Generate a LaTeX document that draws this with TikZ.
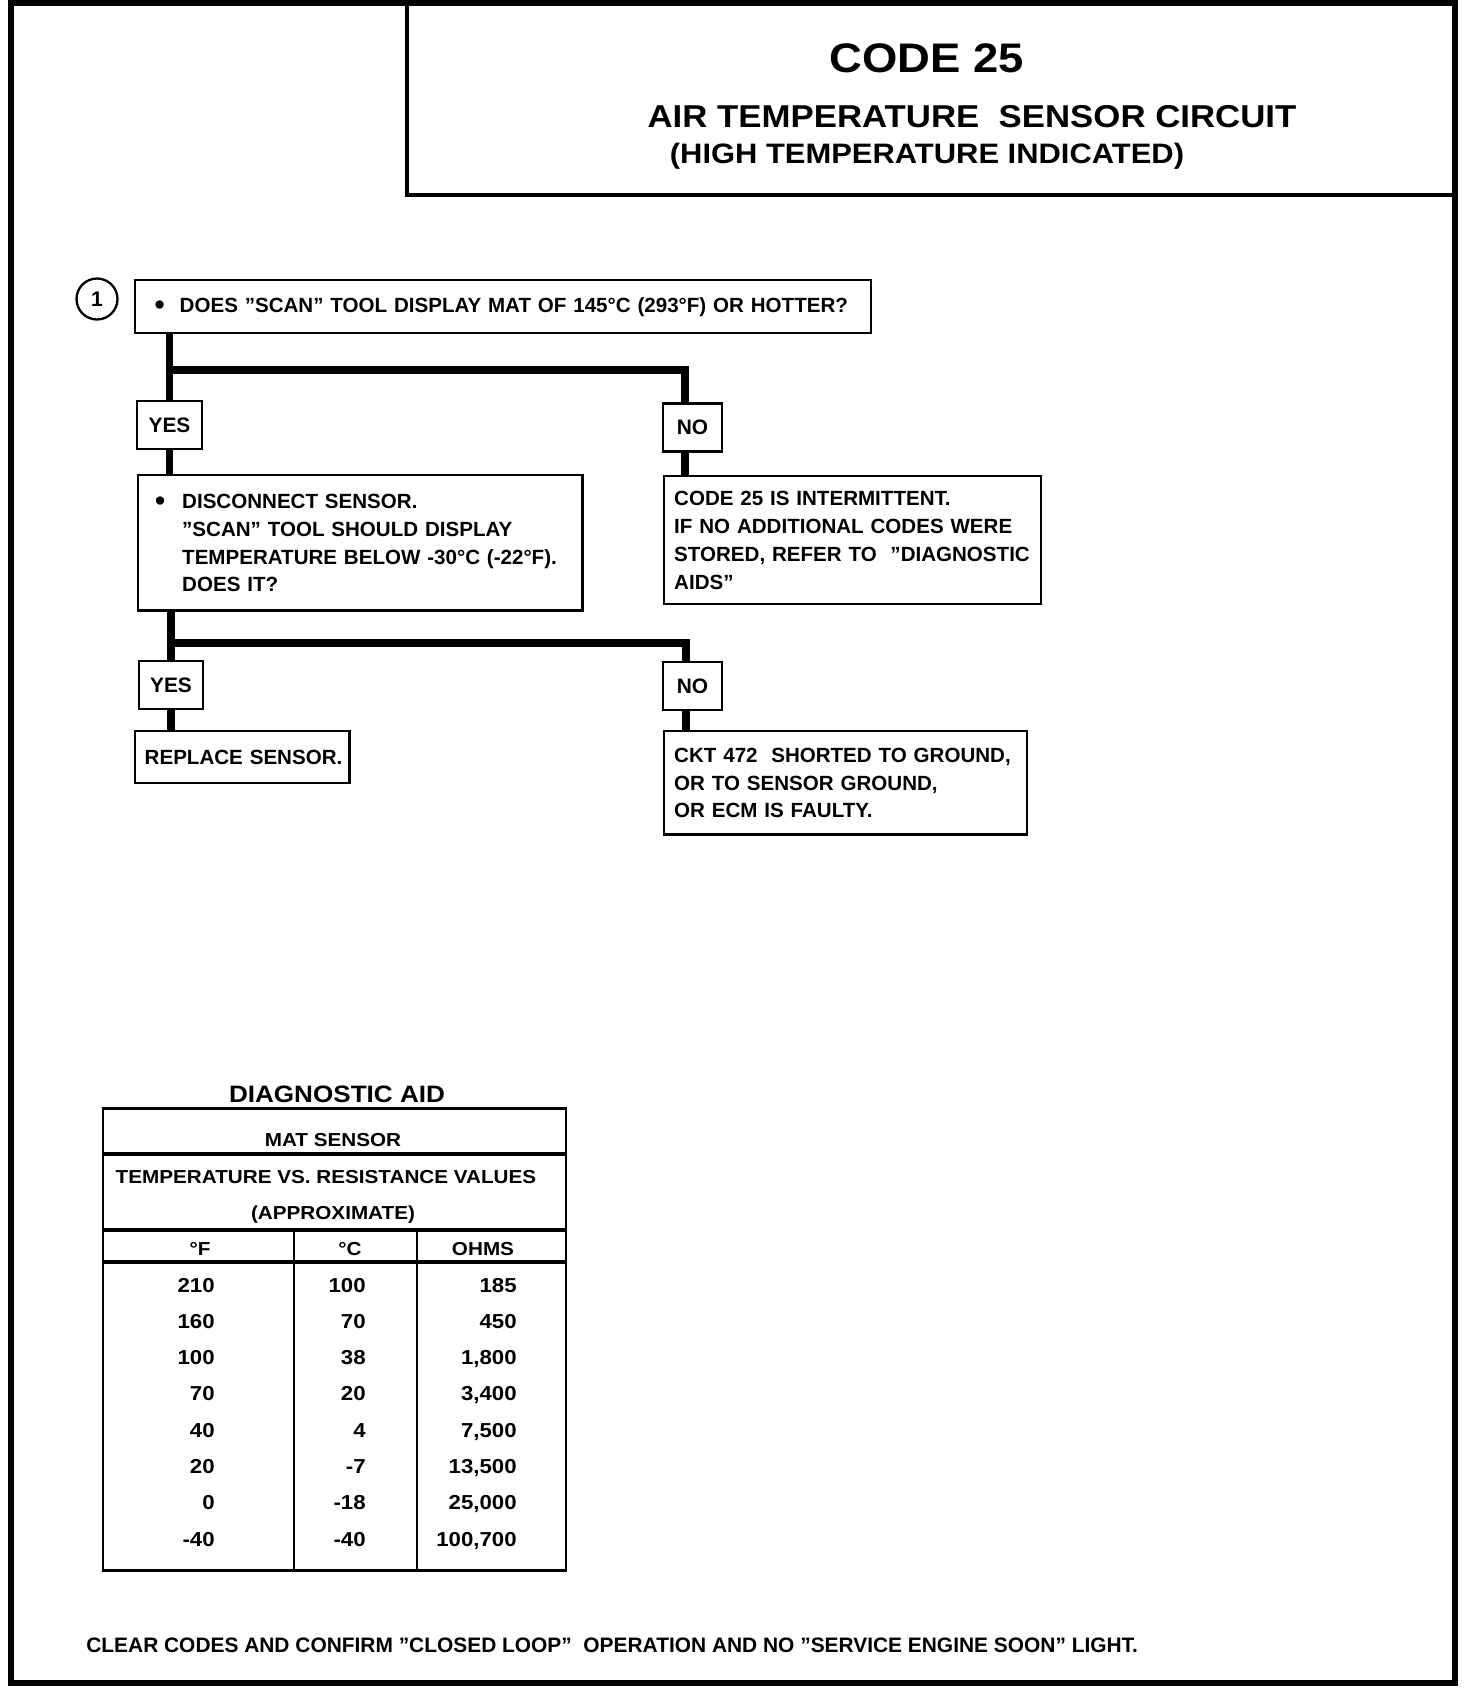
\documentclass[tikz,border=0pt]{standalone}
\usepackage{fontspec}
\setmainfont{Liberation Sans}
\newfontfamily\widefont[FakeStretch=1.1]{Liberation Sans}
\newcommand{\dq}{\symbol{34}}
\newcommand{\dotmark}{\raisebox{-0.1em}{\scalebox{1.4}{\textbullet}}}

\begin{document}
\begin{tikzpicture}[x=0.02cm,y=-0.02cm,
		box/.style={draw,line width=1.4pt,anchor=north west,align=left,inner xsep=0.2cm,inner ysep=0pt,
			font=\bfseries\fontsize{11.7}{15.9}\selectfont},
		tag/.style={draw,line width=1.4pt,inner sep=0pt,minimum height=0.96cm,
			font=\bfseries\fontsize{11.9}{14}\selectfont},
		link/.style={line width=4.5pt},
		cell/.style={anchor=base,inner sep=0pt,font=\widefont\bfseries\fontsize{10.7}{12}\selectfont},
		num/.style={anchor=base east,inner sep=0pt,font=\widefont\bfseries\fontsize{11.5}{13}\selectfont}]
						
						\useasboundingbox (0,0) rectangle (1472,1688);
						
						\draw[line width=3.4pt] (11,3) rectangle (1455,1683);
						\draw[line width=2.3pt] (407,3) -- (407,195) -- (1455,195);
						
						\node[anchor=base,font=\widefont\bfseries\fontsize{23.5}{28}\selectfont] (code) at (927,72) {CODE 25};
						\node[anchor=base,font=\widefont\bfseries\fontsize{18}{22}\selectfont] (title) at (972,127) {AIR TEMPERATURE\ \ SENSOR CIRCUIT};
						\node[anchor=base,font=\widefont\bfseries\fontsize{16}{19}\selectfont] (subtitle) at (927,163) {(HIGH TEMPERATURE INDICATED)};
						
						\node[draw,circle,line width=1.3pt,minimum size=0.82cm,inner sep=0pt,font=\bfseries\fontsize{12}{14}\selectfont] (step1) at (97,299) {1};
						
						\node[box,text width=14.33cm,minimum height=1.06cm] (q1) at (133.5,279)
						{\mbox{\hspace*{0.2cm}\makebox[0.5cm][l]{\dotmark}DOES \dq SCAN\dq\ TOOL DISPLAY MAT OF 145°C (293°F) OR HOTTER?}};
						
						\node[tag,minimum width=1.3cm] (yes1) at (169.5,425) {YES};
						\node[tag,minimum width=1.18cm] (no1) at (692.5,427.5) {NO};
						
						\node[box,text width=8.49cm,minimum height=2.71cm] (q2) at (137,474)
						{\mbox{\hspace*{0.14cm}\makebox[0.54cm][l]{\dotmark}DISCONNECT SENSOR.}\\
							\mbox{\hspace*{0.68cm}\dq SCAN\dq\ TOOL SHOULD DISPLAY}\\
							\mbox{\hspace*{0.68cm}TEMPERATURE BELOW -30°C\ (-22°F).}\\
							\mbox{\hspace*{0.68cm}DOES IT?}};
						
						\node[box,text width=7.14cm,minimum height=2.56cm] (r1) at (663,475)
						{\mbox{CODE 25 IS INTERMITTENT.}\\
							\mbox{IF NO ADDITIONAL CODES WERE}\\
							\mbox{STORED, REFER TO\ \ \dq DIAGNOSTIC}\\
							\mbox{AIDS\dq}};
						
						\node[tag,minimum width=1.29cm] (yes2) at (171,685) {YES};
						\node[tag,minimum width=1.18cm] (no2) at (692.5,686) {NO};
						
						\node[box,text width=3.9cm,minimum height=1.04cm] (r2) at (133.5,730) {\mbox{REPLACE SENSOR.}};
						
						\node[box,text width=6.86cm,minimum height=2.07cm] (r3) at (663,730)
						{\mbox{CKT 472\ \ SHORTED TO GROUND,}\\
							\mbox{OR TO SENSOR GROUND,}\\
							\mbox{OR ECM IS FAULTY.}};
						
						\coordinate (j1) at (685,370);
						\coordinate (j2) at (686,643);
						
						\draw[link] (yes1.north |- q1.south) -- (yes1.north);
						\draw[link] (yes1.north |- j1) -- (j1) -- (j1 |- no1.north);
						\draw[link] (yes1.south) -- (yes1.south |- q2.north);
						\draw[link] (j1 |- no1.south) -- (j1 |- r1.north);
						
						\draw[link] (yes2.north |- q2.south) -- (yes2.north);
						\draw[link] (yes2.north |- j2) -- (j2) -- (j2 |- no2.north);
						\draw[link] (yes2.south) -- (yes2.south |- r2.north);
						\draw[link] (j2 |- no2.south) -- (j2 |- r3.north);
						
						\node[anchor=base,font=\widefont\bfseries\fontsize{13.5}{16}\selectfont] (aid) at (337,1102) {DIAGNOSTIC AID};
						
						\draw[line width=1.7pt] (103,1108) rectangle (566,1570);
						\draw[line width=2.2pt] (103,1154) -- (566,1154);
						\draw[line width=2.2pt] (103,1230) -- (566,1230);
						\draw[line width=2.2pt] (103,1262) -- (566,1262);
						\draw[line width=1.7pt] (294,1230) -- (294,1570);
						\draw[line width=1.7pt] (417,1230) -- (417,1570);
						
						\node[cell] (sensor) at (333,1146) {MAT SENSOR};
						\node[cell] (values) at (326,1183) {TEMPERATURE VS. RESISTANCE VALUES};
						\node[cell] (approx) at (333,1219) {(APPROXIMATE)};
						\node[cell] (degf) at (200,1255) {°F};
						\node[cell] (degc) at (350,1255) {°C};
						\node[cell] (ohms) at (483,1255) {OHMS};
						
						\foreach \f/\c/\r [count=\k from 0] in {210/100/185, 160/70/450, 100/38/1{,}800, 70/20/3{,}400,
							40/4/7{,}500, 20/-7/13{,}500, 0/-18/25{,}000, -40/-40/100{,}700} {
							\node[num] (f\k) at (215,{1292+36.3*\k}) {\f};
							\node[num] (c\k) at (366,{1292+36.3*\k}) {\c};
							\node[num] (o\k) at (517,{1292+36.3*\k}) {\r};
						}
						
						\node[anchor=base west,inner sep=0pt,font=\bfseries\fontsize{11.9}{14}\selectfont] (note) at (86,1652)
						{CLEAR CODES AND CONFIRM \dq CLOSED LOOP\dq\ \ OPERATION AND NO \dq SERVICE ENGINE SOON\dq\ LIGHT.};
						
					\end{tikzpicture}
\end{document}
